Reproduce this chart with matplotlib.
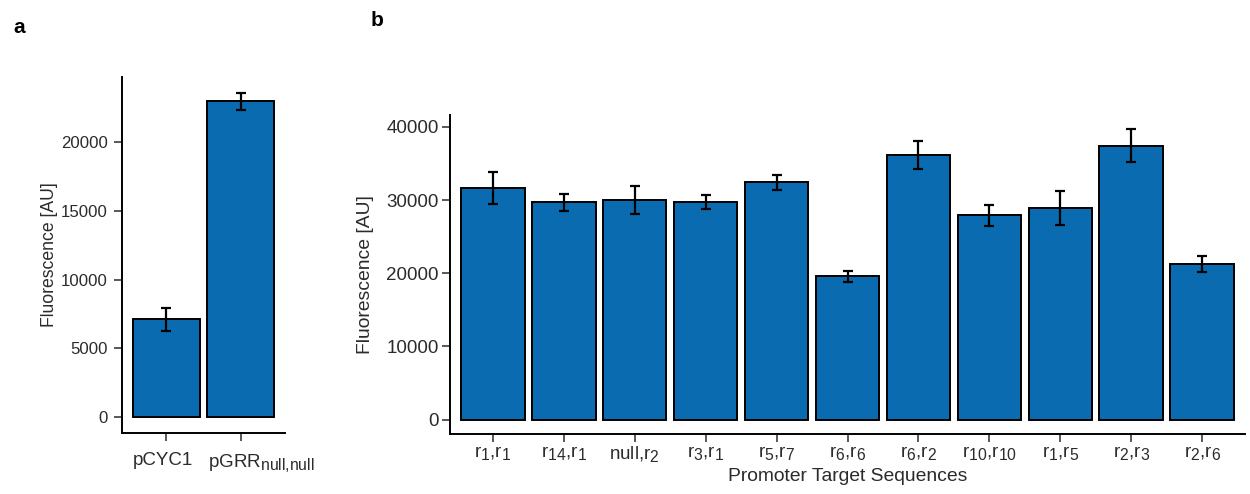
import numpy as np
import matplotlib.pyplot as plt
import matplotlib.transforms as mtransforms
import matplotlib._mathtext as mathtext_internals

plt.rcParams['font.family'] = ['Liberation Sans', 'DejaVu Sans']
# slightly larger subscripts than the mathtext default of 0.7
mathtext_internals.SHRINK_FACTOR = 0.84

# panel a: reference promoters
a_labels = ['pCYC1', r'pGRR$\mathregular{_{null{,}null}}$']
a_values = [7100, 23000]
a_err = [850, 620]

# panel b: promoter target sequence pairs
b_labels = [r'r$\mathregular{_1}$,r$\mathregular{_1}$',
            r'r$\mathregular{_{14}}$,r$\mathregular{_1}$',
            r'null,r$\mathregular{_2}$',
            r'r$\mathregular{_3}$,r$\mathregular{_1}$',
            r'r$\mathregular{_5}$,r$\mathregular{_7}$',
            r'r$\mathregular{_6}$,r$\mathregular{_6}$',
            r'r$\mathregular{_6}$,r$\mathregular{_2}$',
            r'r$\mathregular{_{10}}$,r$\mathregular{_{10}}$',
            r'r$\mathregular{_1}$,r$\mathregular{_5}$',
            r'r$\mathregular{_2}$,r$\mathregular{_3}$',
            r'r$\mathregular{_2}$,r$\mathregular{_6}$']
b_values = [31600, 29700, 30000, 29700, 32400, 19600, 36100, 27900, 28900, 37400, 21300]
b_err = [2200, 1150, 1850, 950, 1080, 750, 1900, 1400, 2300, 2250, 1070]

bar_color = '#0A6BB0'
tick_grey = '#2b2b2b'

fig = plt.figure(figsize=(12.5, 4.94), dpi=100)
W, H = 1250, 494


def style(ax):
    for s in ['top', 'right']:
        ax.spines[s].set_visible(False)
    for s in ['left', 'bottom']:
        ax.spines[s].set_linewidth(1.4)
        ax.spines[s].set_color('black')
    ax.tick_params(direction='out', length=6, width=1.1, color=tick_grey,
                   labelcolor=tick_grey)


# panel a
axa = fig.add_axes([122 / W, 1 - 433 / H, (285 - 122) / W, (433 - 77) / H])
xa = np.arange(1, len(a_values) + 1)
axa.bar(xa, a_values, width=0.9, color=bar_color, edgecolor='black', linewidth=1.4)
axa.errorbar(xa, a_values, yerr=a_err, fmt='none', ecolor='black',
             elinewidth=1.6, capsize=3.5, capthick=1.6)
axa.set_xlim(0.4, 2.6)
axa.set_ylim(-1180, 24770)
axa.set_yticks([0, 5000, 10000, 15000, 20000])
axa.set_xticks(xa)
axa.set_xticklabels(a_labels, fontsize=13.5)
style(axa)
axa.tick_params(axis='y', labelsize=12.1, pad=4)
axa.tick_params(axis='x', pad=8)
axa.set_ylabel('Fluorescence [AU]', fontsize=12.7, color=tick_grey)
axa.yaxis.set_label_coords(-0.39, 0.5)
# nudge the category labels sideways
for lab, dx in zip(axa.get_xticklabels(), [-4, 21]):
    lab.set_transform(lab.get_transform() +
                      mtransforms.ScaledTranslation(dx / 100, 0, fig.dpi_scale_trans))

# panel b
axb = fig.add_axes([450 / W, 1 - 434 / H, (1245 - 450) / W, (434 - 115) / H])
xb = np.arange(1, len(b_values) + 1)
axb.bar(xb, b_values, width=0.9, color=bar_color, edgecolor='black', linewidth=1.4)
axb.errorbar(xb, b_values, yerr=b_err, fmt='none', ecolor='black',
             elinewidth=1.6, capsize=3.5, capthick=1.6)
axb.set_xlim(0.4, 11.6)
axb.set_ylim(-1980, 41620)
axb.set_yticks([0, 10000, 20000, 30000, 40000])
axb.set_xticks(xb)
axb.set_xticklabels(b_labels, fontsize=13.5)
style(axb)
axb.tick_params(axis='y', labelsize=13.5, pad=2)
axb.tick_params(axis='x', pad=1)
axb.set_ylabel('Fluorescence [AU]', fontsize=13.9, color=tick_grey)
axb.yaxis.set_label_coords(-0.095, 0.5)
axb.set_xlabel('Promoter Target Sequences', fontsize=13.9, color=tick_grey, labelpad=3)

fig.text(13 / W, 1 - 33 / H, 'a', fontsize=15, fontweight='bold')
fig.text(371 / W, 1 - 26 / H, 'b', fontsize=15, fontweight='bold')

fig.savefig('out.png', dpi=100, facecolor='white')
